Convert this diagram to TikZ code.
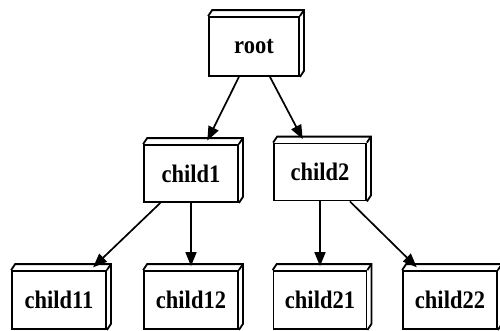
\documentclass[tikz,border=0pt]{standalone}
\usepackage{fontspec}
\setmainfont{Liberation Serif}
\usetikzlibrary{arrows.meta}
\newcommand{\tallbox}[1]{\scalebox{1}[1.12]{#1}}
\tikzset{
  boxthree/.style={draw, line width=1.8pt, rectangle, inner sep=0pt,
    minimum width=94pt, minimum height=58pt,
    font=\fontsize{22.5}{24}\selectfont\bfseries},
  edge/.style={line width=1.7pt, -{Triangle[length=14pt,width=11pt]}, shorten >=4pt},
  depth/.style={line width=1.8pt, line join=miter}
}
\begin{document}
\begin{tikzpicture}[x=1pt,y=-1pt]
\useasboundingbox (0,0) rectangle (500,330);
\node[boxthree, minimum width=90pt, minimum height=59pt] (root) at (254,46.5) {\tallbox{root}};
\node[boxthree, minimum height=57pt] (c1) at (191,173.5) {\tallbox{child1}};
\node[boxthree, minimum width=92pt, minimum height=57pt] (c2) at (320,172) {\tallbox{child2}};
\node[boxthree] (c11) at (59,300) {\tallbox{child11}};
\node[boxthree] (c12) at (191,300) {\tallbox{child12}};
\node[boxthree, minimum width=93pt] (c21) at (320,300) {\tallbox{child21}};
\node[boxthree] (c22) at (450,300) {\tallbox{child22}};
\foreach \n in {root,c1,c2,c11,c12,c21,c22} {
  \draw[depth] (\n.north west) -- ++(4pt,6pt) -| ([shift={(4pt,6pt)}]\n.south east) -- (\n.south east);
  \draw[depth] (\n.north east) -- ++(4pt,6pt);
}
\draw[edge] (root) -- (c1);
\draw[edge] (root) -- (c2);
\draw[edge] (c1) -- (c11);
\draw[edge] (c1) -- (c12);
\draw[edge] (c2) -- (c21);
\draw[edge] (c2) -- (c22);
\end{tikzpicture}
\end{document}
